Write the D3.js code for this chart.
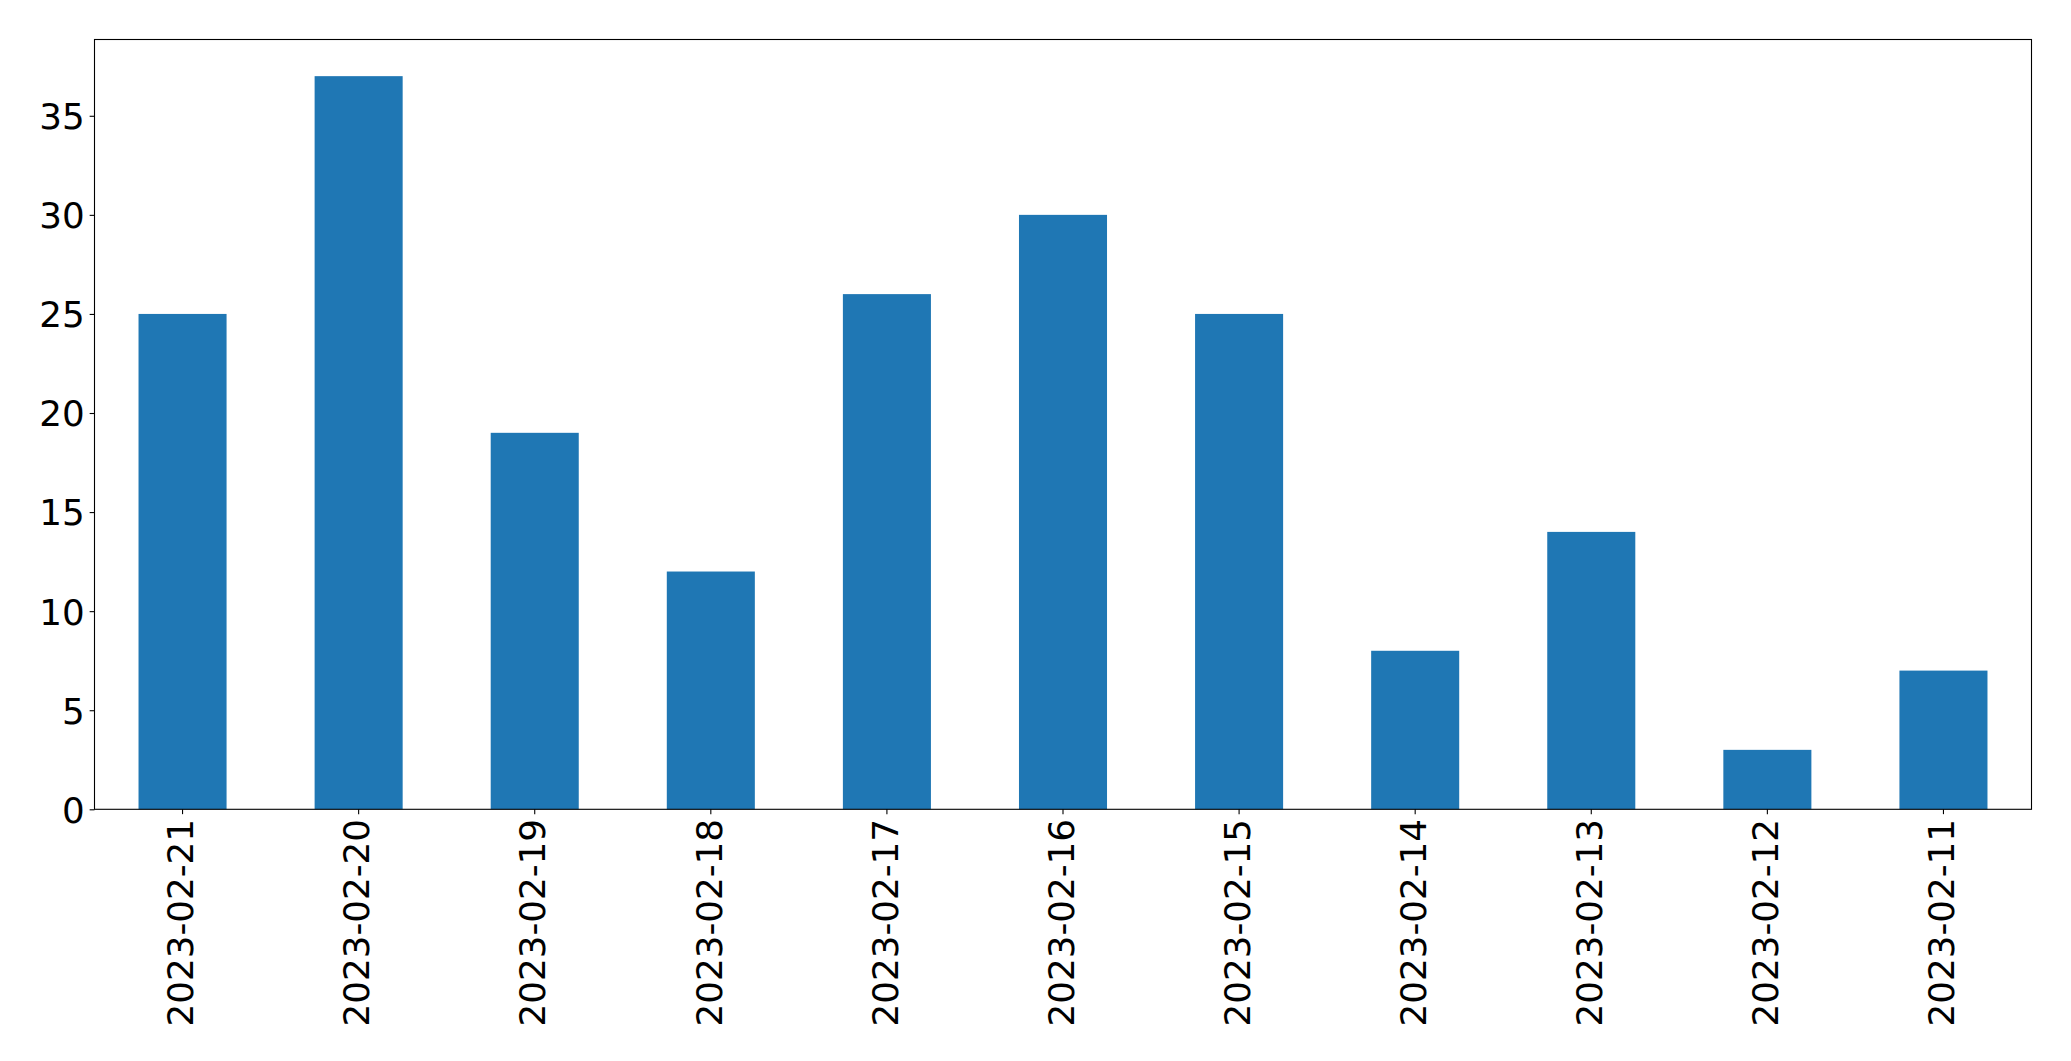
<!DOCTYPE html>
<html>
<head>
<meta charset="utf-8">
<script src="https://cdn.jsdelivr.net/npm/d3@7"></script>
<style>
  html, body { margin: 0; padding: 0; background: #fff; }
  svg { display: block; }
  text { font-family: "DejaVu Sans", sans-serif; fill: #000; }
</style>
</head>
<body>
<svg id="chart" width="2071" height="1061"></svg>
<script>
const categories = ["2023-02-21","2023-02-20","2023-02-19","2023-02-18","2023-02-17","2023-02-16","2023-02-15","2023-02-14","2023-02-13","2023-02-12","2023-02-11"];
const values = [25, 37, 19, 12, 26, 30, 25, 8, 14, 3, 7];
const yTicks = [0, 5, 10, 15, 20, 25, 30, 35];

const W = 2071, H = 1061;
const margin = {left: 94.5, top: 39.5, right: 2071 - 2031.5, bottom: 1061 - 809.3};
const fontSize = 35.7;
const tickLen = 4.86, pad = 4.86;

const svg = d3.select("#chart");
const x = d3.scaleBand().domain(categories).range([margin.left, W - margin.right]).paddingInner(0.5).paddingOuter(0.25);
const y = d3.scaleLinear().domain([0, d3.max(values) * 1.05]).range([H - margin.bottom, margin.top]);

svg.append("g").selectAll("rect").data(values).join("rect")
  .attr("x", (d, i) => x(categories[i]))
  .attr("width", x.bandwidth())
  .attr("y", d => y(d))
  .attr("height", d => y(0) - y(d))
  .attr("fill", "#1f77b4");

const yAxis = svg.append("g").attr("transform", `translate(${margin.left},0)`)
  .call(d3.axisLeft(y).tickValues(yTicks).tickSize(tickLen).tickPadding(pad).tickFormat(d3.format("d")));
yAxis.select(".domain").remove();
yAxis.selectAll("line").attr("stroke", "#000").attr("stroke-width", 1.1);
yAxis.selectAll("text").attr("font-size", fontSize).attr("font-family", "DejaVu Sans").attr("dy", "0.36em");

const xAxis = svg.append("g").attr("transform", `translate(0,${H - margin.bottom})`)
  .call(d3.axisBottom(x).tickSize(tickLen).tickPadding(pad));
xAxis.select(".domain").remove();
xAxis.selectAll("line").attr("stroke", "#000").attr("stroke-width", 1.1);
xAxis.selectAll("text")
  .attr("font-size", fontSize).attr("font-family", "DejaVu Sans")
  .attr("text-anchor", "end")
  .attr("transform", `translate(0,${tickLen + pad}) rotate(-90)`)
  .attr("x", 0).attr("y", 0).attr("dy", "0.3em");

svg.append("rect")
  .attr("x", margin.left).attr("y", margin.top)
  .attr("width", W - margin.right - margin.left)
  .attr("height", H - margin.bottom - margin.top)
  .attr("fill", "none").attr("stroke", "#000").attr("stroke-width", 1.1);
</script>
</body>
</html>
